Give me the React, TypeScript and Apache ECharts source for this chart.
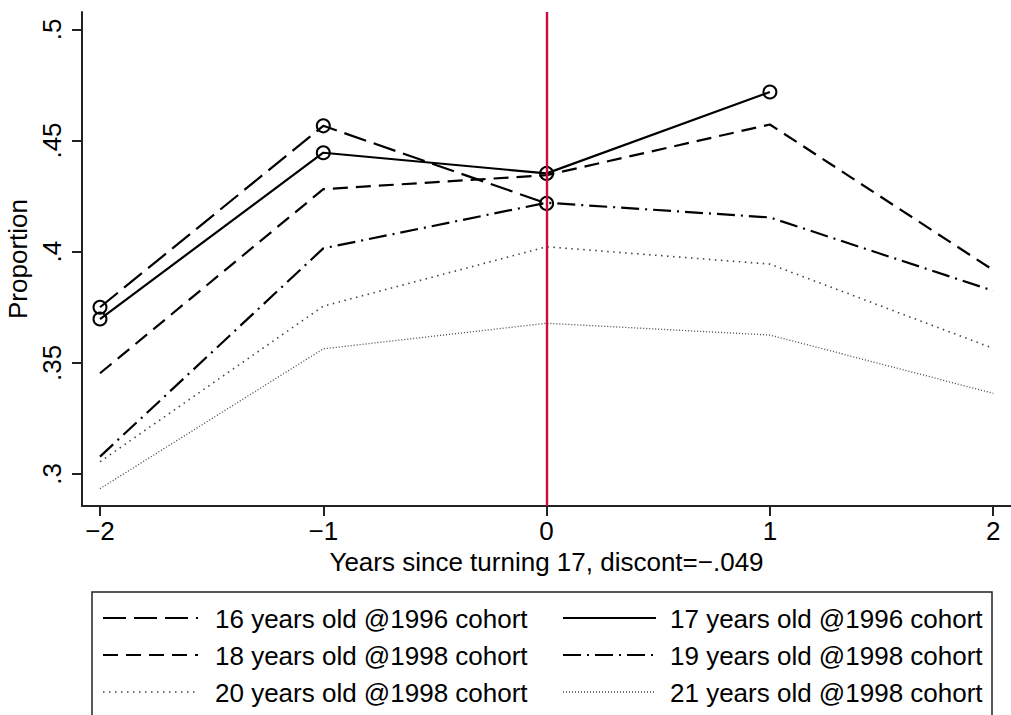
import React, { useEffect, useRef } from "react";
import * as echarts from "echarts";

const xs = [-2, -1, 0, 1, 2];
const s16 = [0.375, 0.4566, 0.4217, null, null];
const s17 = [0.3697, 0.4445, 0.4352, 0.4718, null];
const s18 = [0.3453, 0.4281, 0.4344, 0.4572, 0.3917];
const s19 = [0.3078, 0.4015, 0.422, 0.4154, 0.3824];
const s20 = [0.3055, 0.3755, 0.4022, 0.3944, 0.3565];
const s21 = [0.2934, 0.3563, 0.3678, 0.3625, 0.3363];

const xTicks = [-2, -1, 0, 1, 2];
const yTicks = [0.3, 0.35, 0.4, 0.45, 0.5];
const yTickLabels = [".3", ".35", ".4", ".45", ".5"];
const xTickLabels = ["\u22122", "\u22121", "0", "1", "2"];

const legendNames = [
  "16 years old @1996 cohort",
  "17 years old @1996 cohort",
  "18 years old @1998 cohort",
  "19 years old @1998 cohort",
  "20 years old @1998 cohort",
  "21 years old @1998 cohort",
];
const xTitle = "Years since turning 17, discont=\u2212.049";
const yTitle = "Proportion";

const FONT = "'Liberation Sans', Arial, Helvetica, sans-serif";
const FS = 26;

const styles = [
  { width: 2.2, color: "#000", type: [23, 8], marker: true },
  { width: 2.2, color: "#000", type: "solid", marker: true },
  { width: 2.2, color: "#000", type: [15, 8], marker: false },
  { width: 2.2, color: "#000", type: [18, 6, 2, 6], marker: false },
  { width: 1.6, color: "#444", type: [1.5, 4.5], marker: false },
  { width: 1.3, color: "#444", type: [1, 2], marker: false },
];

const allSeries = [s16, s17, s18, s19, s20, s21];

export default function App() {
  const ref = useRef<HTMLDivElement>(null);
  useEffect(() => {
    if (!ref.current) return;
    const chart = echarts.init(ref.current, null, { renderer: "svg" });

    const series: any[] = allSeries.map((vals, i) => {
      const st = styles[i];
      const data = xs
        .map((x, j) => (vals[j] == null ? null : [x, vals[j]]))
        .filter((d) => d !== null);
      return {
        name: legendNames[i],
        type: "line",
        data,
        symbol: st.marker ? "circle" : "none",
        symbolSize: 13,
        showSymbol: st.marker,
        itemStyle: { color: "rgba(0,0,0,0)", borderColor: "#000", borderWidth: 2 },
        lineStyle: { color: st.color, width: st.width, type: st.type },
        z: 3 + (st.marker ? 1 : 0),
        silent: true,
      };
    });
    series.push({
      type: "line",
      data: [],
      silent: true,
      markLine: {
        silent: true,
        symbol: "none",
        label: { show: false },
        lineStyle: { color: "#cc0a3c", width: 2.4, type: "solid" },
        data: [{ xAxis: 0 }],
      },
      z: 3,
    });

    const lineX = [
      [103, 198],
      [563, 656],
    ];
    const textX = [215, 670];
    const rowsY = [618, 655, 692];
    const graphic: any[] = [
      {
        type: "rect",
        shape: { x: 92, y: 592, width: 900, height: 200 },
        style: { fill: "none", stroke: "#222", lineWidth: 1.5 },
        silent: true,
      },
    ];
    legendNames.forEach((name, i) => {
      const col = i % 2;
      const row = Math.floor(i / 2);
      const st = styles[i];
      const y = rowsY[row];
      graphic.push({
        type: "line",
        shape: { x1: lineX[col][0], y1: y, x2: lineX[col][1], y2: y },
        style: {
          stroke: st.color,
          lineWidth: st.width,
          lineDash: st.type === "solid" ? null : st.type,
        },
        silent: true,
      });
      graphic.push({
        type: "text",
        x: textX[col],
        y: y + 1,
        style: {
          text: name,
          fontFamily: FONT,
          fontSize: FS,
          fill: "#000",
          verticalAlign: "middle",
          align: "left",
        },
        silent: true,
      });
    });

    chart.setOption({
      animation: false,
      backgroundColor: "#fff",
      grid: { left: 82, top: 12, width: 929, height: 494, containLabel: false, outerBoundsMode: "none" },
      xAxis: {
        type: "value",
        min: -2.0806,
        max: 2.0797,
        name: xTitle,
        nameLocation: "middle",
        nameGap: 42,
        nameTextStyle: { fontFamily: FONT, fontSize: FS, color: "#000" },
        axisLine: { show: true, onZero: false, lineStyle: { color: "#222", width: 2 } },
        axisTick: { show: true, length: 10, lineStyle: { color: "#222", width: 2 }, customValues: xTicks },
        axisLabel: {
          customValues: xTicks,
          formatter: (v: number) => xTickLabels[xTicks.indexOf(Math.round(v))] ?? "",
          fontFamily: FONT,
          fontSize: FS,
          color: "#000",
          margin: 12,
        },
        splitLine: { show: false },
      },
      yAxis: {
        type: "value",
        min: 0.2856,
        max: 0.5078,
        name: yTitle,
        nameLocation: "middle",
        nameGap: 48,
        nameRotate: 90,
        nameTextStyle: { fontFamily: FONT, fontSize: FS, color: "#000" },
        axisLine: { show: true, onZero: false, lineStyle: { color: "#222", width: 2 } },
        axisTick: { show: true, length: 10, lineStyle: { color: "#222", width: 2 }, customValues: yTicks },
        axisLabel: {
          customValues: yTicks,
          rotate: 90,
          formatter: (v: number) => {
            const idx = yTicks.findIndex((t) => Math.abs(t - v) < 1e-6);
            return idx >= 0 ? yTickLabels[idx] : "";
          },
          fontFamily: FONT,
          fontSize: FS,
          color: "#000",
          margin: 17,
        },
        splitLine: { show: false },
      },
      series,
      graphic,
    });
    return () => chart.dispose();
  }, []);
  return (
    <div
      ref={ref}
      style={{ position: "absolute", left: 0, top: 0, width: 1011, height: 715, background: "#fff" }}
    />
  );
}
